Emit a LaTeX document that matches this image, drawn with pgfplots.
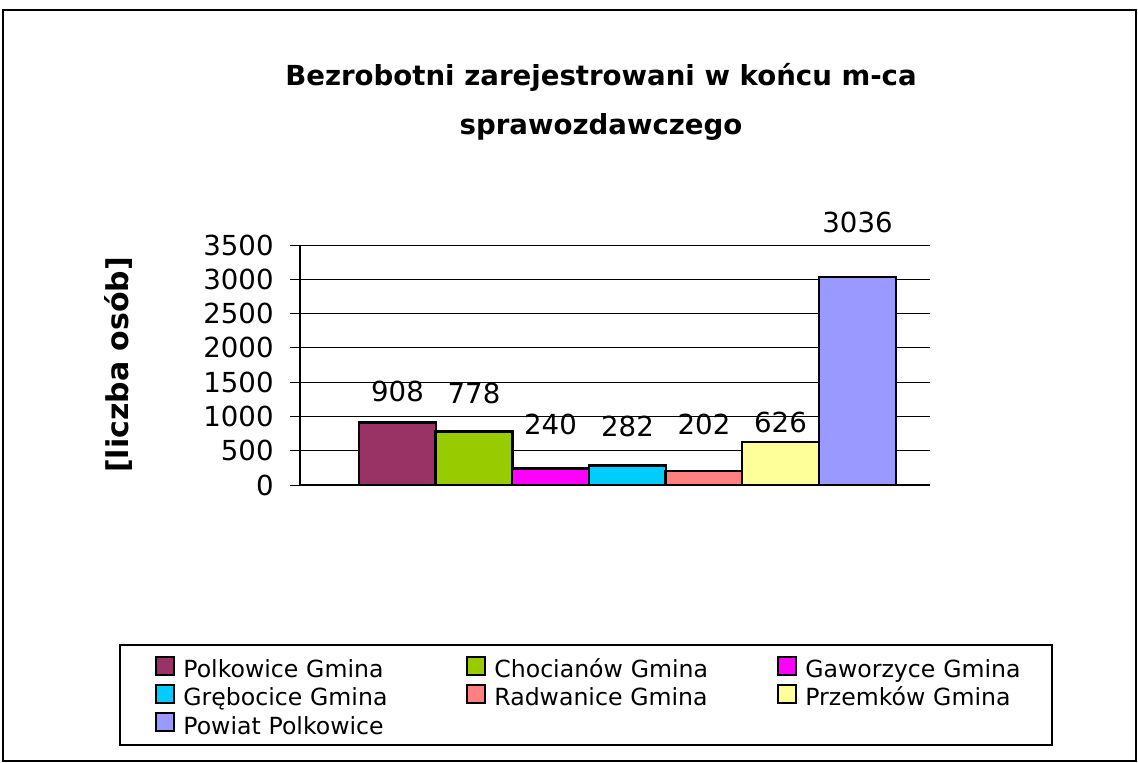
\documentclass[border=0pt]{standalone}
\usepackage{pgfplots}
\pgfplotsset{compat=1.18}
\usepackage{fontspec}
\setmainfont{DejaVu Sans}
\definecolor{cA}{HTML}{993366}
\definecolor{cB}{HTML}{99CC00}
\definecolor{cC}{HTML}{FF00FF}
\definecolor{cD}{HTML}{00CCFF}
\definecolor{cE}{HTML}{FF8080}
\definecolor{cF}{HTML}{FFFF99}
\definecolor{cG}{HTML}{9999FF}
\begin{document}
\begin{tikzpicture}
\useasboundingbox (0,0) rectangle (569pt,-381pt);
\draw[line width=0.6pt] (1.5pt,-5pt) rectangle (568pt,-380.5pt);
\node[font=\fontsize{13.8}{15}\selectfont\bfseries] at (300.5pt,-38.5pt) {Bezrobotni zarejestrowani w końcu m-ca};
\node[font=\fontsize{13.8}{15}\selectfont\bfseries] at (300.5pt,-63.5pt) {sprawozdawczego};
\draw[line width=0.6pt] (60pt,-322.5pt) rectangle (526pt,-372.5pt);
\begin{axis}[
  at={(150pt,-242.5pt)}, anchor=south west,
  scale only axis, width=315pt, height=120pt,
  xmin=0, xmax=630, ymin=0, ymax=3500,
  ytick={0,500,...,3500},
  xtick=\empty,
  ymajorgrids,
  grid style={black, line width=0.5pt},
  axis x line*=bottom, axis y line*=left,
  axis line style={black, line width=0.7pt, -},
  tick style={black, line width=0.5pt},
  major tick length=5pt,
  ytick pos=left, tick align=outside,
  /pgf/number format/assume math mode=true,
  /pgf/number format/1000 sep={},
  yticklabel style={font=\fontsize{13.8}{15}\selectfont, inner sep=0pt, xshift=-8pt},
  ylabel={[liczba osób]},
  ylabel style={at={(axis description cs:-0.2889,0.5)}, anchor=center, font=\fontsize{15}{17}\selectfont\bfseries},
  ybar, bar width=76.7, bar shift=0pt,
  every axis plot/.append style={draw=black, line width=1.3pt},
  nodes near coords,
  every node near coord/.append style={font=\fontsize{13.8}{15}\selectfont, anchor=center, black},
  legend columns=3,
  legend cell align=left,
  legend image code/.code={\draw[#1, line width=1pt] (0pt,-1.5pt) rectangle (9pt,7.5pt);},
  legend style={draw=none, fill=none, inner sep=0pt, at={(axis description cs:-0.2302,-0.71)}, anchor=north west,
    font=\fontsize{11.8}{13}\selectfont, row sep=0pt,
    nodes={inner sep=1pt, text height=8pt, text depth=2.25pt, text width=138pt, align=left},
    /tikz/every odd column/.append style={column sep=3pt},
    /tikz/every even column/.append style={column sep=2.5pt}},
]
\addplot[fill=cA, every node near coord/.append style={yshift=15.9pt}] coordinates {(97.5,908)};
\addplot[fill=cB, every node near coord/.append style={yshift=18.9pt}] coordinates {(174,778)};
\addplot[fill=cC, every node near coord/.append style={yshift=22.3pt}] coordinates {(250.5,240)};
\addplot[fill=cD, every node near coord/.append style={yshift=19.4pt}] coordinates {(327.5,282)};
\addplot[fill=cE, every node near coord/.append style={yshift=23.6pt}] coordinates {(404,202)};
\addplot[fill=cF, every node near coord/.append style={yshift=9.6pt}] coordinates {(480.5,626)};
\addplot[fill=cG, every node near coord/.append style={yshift=27.4pt}] coordinates {(557.5,3036)};
\legend{Polkowice Gmina, Chocianów Gmina, Gaworzyce Gmina, Grębocice Gmina, Radwanice Gmina, Przemków Gmina, Powiat Polkowice}
\end{axis}
\end{tikzpicture}
\end{document}
